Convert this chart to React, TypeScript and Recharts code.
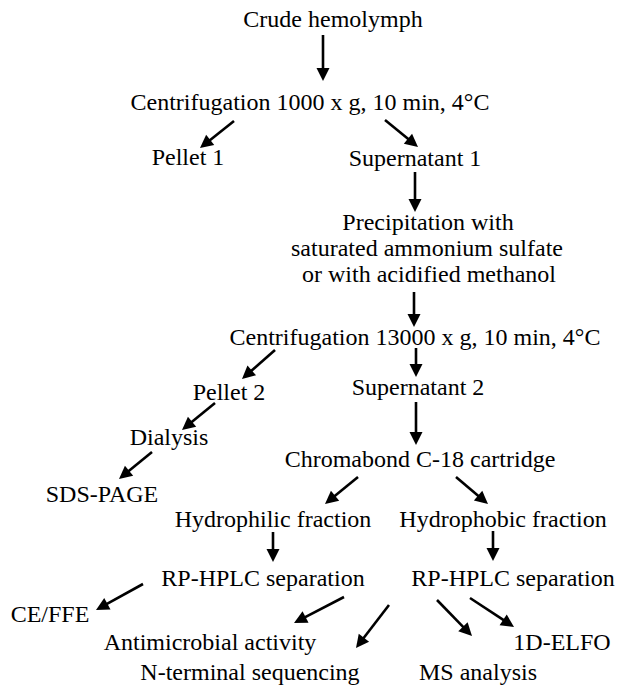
import { ScatterChart, Scatter, XAxis, YAxis, ReferenceLine } from 'recharts';

// flowchart steps, placed on a 620 x 685 layout grid (x = centre, y = text baseline)
const stepLabels = [
    'Crude hemolymph',
    'Centrifugation 1000 x g, 10 min, 4°C',
    'Pellet 1',
    'Supernatant 1',
    'Precipitation with',
    'saturated ammonium sulfate',
    'or with acidified methanol',
    'Centrifugation 13000 x g, 10 min, 4°C',
    'Pellet 2',
    'Supernatant 2',
    'Dialysis',
    'SDS-PAGE',
    'Chromabond C-18 cartridge',
    'Hydrophilic fraction',
    'Hydrophobic fraction',
    'RP-HPLC separation',
    'RP-HPLC separation',
    'CE/FFE',
    'Antimicrobial activity',
    'N-terminal sequencing',
    'MS analysis',
    '1D-ELFO',
];
const stepX = [333, 310, 188, 415, 428, 427, 429, 415, 229, 418, 169, 102, 420, 273, 503, 263, 513, 50, 210, 250, 478, 562];
const stepY = [27, 110, 165, 166, 230, 256, 282, 345, 400, 395, 445, 502, 467, 527, 527, 586, 586, 622, 650, 680, 680, 650];

// arrows: start point -> tip
const arrowFromX = [323, 234, 385, 415, 414, 275, 416, 215, 416, 152, 358, 456, 273, 493, 143, 344, 389, 437, 470];
const arrowFromY = [35, 121, 120, 172, 292, 350, 348, 403, 402, 452, 477, 477, 532, 531, 584, 597, 605, 600, 598];
const arrowToX = [323, 200, 418, 415, 414, 242, 416, 182, 416, 119, 325, 488, 273, 493, 96, 294, 356, 472, 514];
const arrowToY = [81, 148, 147, 212, 327, 379, 377, 430, 445, 479, 504, 504, 562, 561, 610, 623, 648, 636, 627];

const steps = stepLabels.map((label, i) => ({ label, x: stepX[i], y: stepY[i] }));
const arrows = arrowFromX.map((x1, i) => ({ x1, y1: arrowFromY[i], x2: arrowToX[i], y2: arrowToY[i] }));

const StepText = (props: any) => (
    <text
        x={props.cx}
        y={props.cy}
        textAnchor="middle"
        fontFamily="'Liberation Serif', 'Times New Roman', serif"
        fontSize={24}
        fill="#000"
    >
        {props.payload.label}
    </text>
);

const Arrow = (props: any) => {
    const { x1, y1, x2, y2 } = props;
    const dx = x2 - x1;
    const dy = y2 - y1;
    const len = Math.sqrt(dx * dx + dy * dy) || 1;
    const ux = dx / len;
    const uy = dy / len;
    const head = 13;
    const half = 6.5;
    const bx = x2 - ux * head;
    const by = y2 - uy * head;
    const pts = `${x2},${y2} ${bx - uy * half},${by + ux * half} ${bx + uy * half},${by - ux * half}`;
    return (
        <g>
            <line x1={x1} y1={y1} x2={bx + ux * 2} y2={by + uy * 2} stroke="#000" strokeWidth={2.6} />
            <polygon points={pts} fill="#000" />
        </g>
    );
};

export default function App() {
    return (
        <div style={{ width: 620, height: 685, background: '#fff' }}>
            <style>{'body { margin: 0; }'}</style>
            <ScatterChart width={620} height={685} margin={{ top: 0, right: 0, bottom: 0, left: 0 }}>
                <XAxis type="number" dataKey="x" domain={[0, 620]} hide />
                <YAxis type="number" dataKey="y" domain={[0, 685]} reversed hide />
                {arrows.map((a, i) => (
                    <ReferenceLine
                        key={i}
                        segment={[{ x: a.x1, y: a.y1 }, { x: a.x2, y: a.y2 }]}
                        ifOverflow="visible"
                        shape={Arrow}
                    />
                ))}
                <Scatter data={steps} shape={StepText} isAnimationActive={false} />
            </ScatterChart>
        </div>
    );
}
